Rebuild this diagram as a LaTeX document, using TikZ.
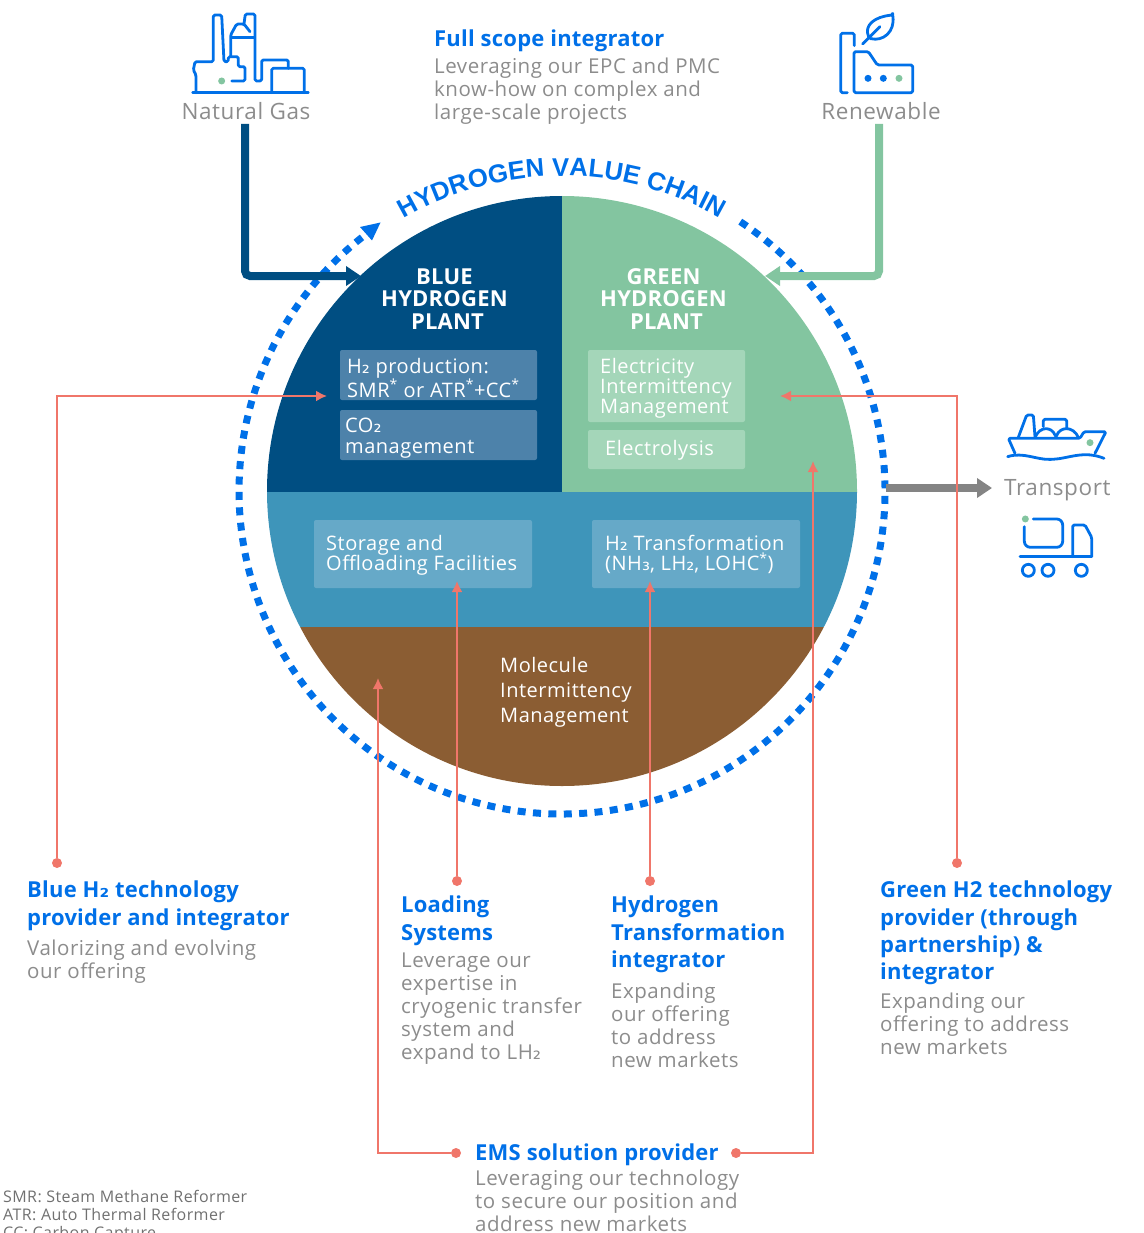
\documentclass[tikz,border=0pt]{standalone}
\usepackage{fontspec}
\setmainfont{Open Sans}[LetterSpace=2.6,BoldFeatures={LetterSpace=1.0}]
\newfontfamily\arcfont{Liberation Sans}[BoldFont={Liberation Sans Bold}]
\newfontfamily\subfont{DejaVu Sans}
\usetikzlibrary{arrows.meta,decorations.text}
\definecolor{ringblue}{HTML}{0070E8}
\definecolor{deepblue}{HTML}{004E82}
\definecolor{leaf}{HTML}{83C5A0}
\definecolor{teal}{HTML}{3E95BA}
\definecolor{earth}{HTML}{8B5D33}
\definecolor{coral}{HTML}{F0766A}
\definecolor{greytxt}{HTML}{8C8C8C}
\definecolor{foot}{HTML}{707070}
\definecolor{boxblue}{HTML}{4D82AA}
\definecolor{boxgreen}{HTML}{A4D6B9}
\definecolor{boxteal}{HTML}{66A9C8}
\definecolor{feedgrey}{HTML}{848484}
\newcommand\hvcfont{\arcfont\bfseries\fontsize{25.7}{30}\selectfont\color{ringblue}}
\newcommand\stwo{{\subfont ₂}}
\newcommand\sthree{{\subfont ₃}}
\tikzset{
  x=1pt,y=-1pt,
  txt/.style={anchor=north west,inner sep=0pt,align=left,execute at begin node={\rule{0pt}{.8em}}},
  body/.style={txt,text=greytxt,font=\fontsize{20.5}{23}\selectfont},
  head/.style={txt,text=ringblue,font=\bfseries\fontsize{22}{27.2}\selectfont},
  inbox/.style={txt,text=white,font=\fontsize{20}{20.3}\selectfont},
  plant/.style={anchor=center,inner sep=0pt,align=center,text=white,font=\bfseries\fontsize{22}{22.5}\selectfont},
  captxt/.style={inner sep=0pt,text=greytxt,font=\fontsize{22.5}{24}\selectfont},
  note/.style={txt,text=foot,font=\fontsize{16}{18}\selectfont},
  panel/.style={rounded corners=2pt},
  cdot/.style={circle,fill=coral,inner sep=0pt,minimum size=10pt},
  conn/.style={draw=coral,line width=2pt,-{Latex[length=11pt,width=11pt]}},
  feed/.style={line width=8pt,rounded corners=5pt,-{Triangle[length=15pt,width=19pt]}},
  icon/.style={draw=ringblue,line width=2.8pt,line cap=round,line join=round},
  gdot/.style={circle,fill=leaf,inner sep=0pt,minimum size=7pt},
  bdot/.style={circle,fill=ringblue,inner sep=0pt,minimum size=7pt},
}
\begin{document}
\begin{tikzpicture}
\useasboundingbox (0,0) rectangle (1143,1233);
\clip (0,0) rectangle (1143,1233);
% disc
\begin{scope}
  \clip (562,491) circle[radius=295pt];
  \fill[deepblue] (260,190) rectangle (562,492);
  \fill[leaf] (562,190) rectangle (865,492);
  \fill[teal] (260,492) rectangle (865,627);
  \fill[earth] (260,627) rectangle (865,790);
\end{scope}
% ring and curved title
\begin{scope}[shift={(562,491)},y=1pt]
  \draw[ringblue,line width=7pt,dash pattern=on 8pt off 7.4pt] (56.5:323) arc[start angle=56.5,end angle=-232,radius=323pt];
  \path[decorate,decoration={text along path,text align=center,text={|\hvcfont|HYDROGEN VALUE CHAIN}}]
    (125:315) arc[start angle=125,end angle=55,radius=315pt];
\end{scope}
\fill[ringblue] (380.5,222.5) -- (360,227) -- (372,240.5) -- cycle;
% panels
\fill[boxblue,panel] (340,350) rectangle (537,400);
\fill[boxblue,panel] (340,410) rectangle (537,460);
\fill[boxgreen,panel] (588,350) rectangle (745,422);
\fill[boxgreen,panel] (588,430) rectangle (745,469);
\fill[boxteal,panel] (314,520) rectangle (532,588);
\fill[boxteal,panel] (592,520) rectangle (800,588);
% disc texts
\node[plant] (bp) at (444.5,299) {BLUE\\HYDROGEN\\\hspace*{6pt}PLANT};
\node[plant] (gp) at (663.5,299) {GREEN\\HYDROGEN\\\hspace*{6pt}PLANT};
\node[inbox] (t1) at (347,358) {H\stwo{} production:\\SMR\textsuperscript{*} or ATR\textsuperscript{*}+CC\textsuperscript{*}};
\node[inbox] (t2) at (345,418) {CO\stwo\\management};
\node[inbox] (t3) at (600,358) {Electricity\\Intermittency\\Management};
\node[inbox] (t4) at (605,439) {Electrolysis};
\node[inbox] (t5) at (326,535) {Storage and\\Offloading Facilities};
\node[inbox] (t6) at (605,535) {H\stwo{} Transformation\\(NH\sthree, LH\stwo, LOHC\textsuperscript{*})};
\node[inbox,font=\fontsize{20}{25}\selectfont] (t7) at (500,657) {Molecule\\Intermittency\\Management};
% top texts
\node[head] (fs) at (434,29) {Full scope integrator};
\node[body] (fsb) at (434,58) {Leveraging our EPC and PMC\\know-how on complex and\\large-scale projects};
\node[captxt] (ng) at (246,111) {Natural Gas};
\node[captxt] (rn) at (881,111) {Renewable};
\node[captxt,anchor=west] (tr) at (1004,490) {Transport};
% feed arrows
\coordinate (ngs) at (245,124);
\coordinate (ngt) at (361,276);
\coordinate (rns) at (879,124);
\coordinate (rnt) at (765,276);
\coordinate (trs) at (886,488);
\coordinate (trt) at (992,488);
\draw[feed,deepblue] (ngs) |- (ngt);
\draw[feed,leaf] (rns) |- (rnt);
\draw[feed,feedgrey] (trs) -- (trt);
% bottom texts
\node[head] (a1) at (27,881) {Blue H\stwo{} technology\\provider and integrator};
\node[body] (a2) at (27,940) {Valorizing and evolving\\our offering};
\node[head] (b1) at (401,896) {Loading\\Systems};
\node[body] (b2) at (401,953) {Leverage our\\expertise in\\cryogenic transfer\\system and\\expand to LH\stwo};
\node[head] (c1) at (611,896) {Hydrogen\\Transformation\\integrator};
\node[body] (c2) at (611,983) {Expanding\\our offering\\to address\\new markets};
\node[head] (d1) at (880,881) {Green H2 technology\\provider (through\\partnership) \&\\integrator};
\node[body] (d2) at (880,993) {Expanding our\\offering to address\\new markets};
\node[head] (e1) at (475,1143) {EMS solution provider};
\node[body] (e2) at (475,1170) {Leveraging our technology\\to secure our position and\\address new markets};
\node[note] (f) at (3,1190) {SMR: Steam Methane Reformer\\ATR: Auto Thermal Reformer\\CC: Carbon Capture};
% coral connectors
\node[cdot] (n1) at (57,863) {};
\node[cdot] (n2) at (457,881) {};
\node[cdot] (n3) at (650,881) {};
\node[cdot] (n4) at (957,863) {};
\node[cdot] (n5) at (456,1153) {};
\node[cdot] (n6) at (736,1153) {};
\coordinate (e1t) at (327,396);
\coordinate (e2t) at (457,581);
\coordinate (e3t) at (650,581);
\coordinate (e4t) at (780,396);
\coordinate (e5t) at (378,678);
\coordinate (e6t) at (813,461);
\draw[conn] (n1) |- (e1t);
\draw[conn] (n2) -- (e2t);
\draw[conn] (n3) -- (e3t);
\draw[conn] (n4) |- (e4t);
\draw[conn] (n5) -| (e5t);
\draw[conn] (n6) -| (e6t);
% Natural gas icon
\begin{scope}[shift={(170,0)},x=.3333pt,y=-.3333pt,rounded corners=1.5pt]
  \draw[icon] (68,278) -- (415,278);
  \draw[icon] (78,278) -- (78,225) -- (70,210) -- (75,185) -- (130,185) -- (130,45) -- (155,45) -- (162,185) -- (175,185) -- (175,170) -- (205,170) -- (205,200) -- (225,200) -- (225,243) -- (185,243);
  \draw[icon] (182,170) -- (182,105) -- (200,72) -- (222,72) -- (240,95);
  \draw[icon] (185,112) -- (252,112);
  \draw[icon] (222,72) -- (226,42) -- (255,42) -- (255,243) -- (275,243) -- (275,180) -- (355,180) -- (355,205);
  \draw[icon] (305,278) -- (305,205) -- (403,205) -- (403,278);
  \node[gdot] at (155,243) {};
\end{scope}
% Renewable icon
\begin{scope}[shift={(800,0)},x=.3333pt,y=-.3333pt,rounded corners=1.5pt]
  \draw[icon] (142,278) -- (122,278) -- (122,100) -- (163,100) -- (163,137);
  \draw[icon] (162,278) -- (162,155) -- (205,155) -- (232,195) -- (338,195) -- (338,278) -- cycle;
  \node[bdot] at (204,235) {};
  \node[bdot] at (250,235) {};
  \node[gdot] at (297,235) {};
  \draw[icon] (188,132) -- (240,80);
  \draw[icon] (278,45) .. controls (225,50) and (190,75) .. (208,115) .. controls (250,125) and (285,95) .. (278,45) -- cycle;
\end{scope}
% Ship icon
\begin{scope}[shift={(980,400)},x=.3333pt,y=-.3333pt,rounded corners=1.5pt]
  \draw[icon] (105,160) -- (85,115) -- (300,115) -- (312,95) -- (378,95) -- (345,160);
  \draw[icon] (115,112) -- (140,45) -- (160,45) -- (165,110);
  \draw[icon] (165,112) .. controls (180,78) and (215,78) .. (228,112) .. controls (240,78) and (280,78) .. (295,112);
  \draw[icon] (190,80) -- (190,58) -- (260,58) -- (260,85);
  \draw[icon] (83,170) .. controls (130,155) and (170,180) .. (215,178) .. controls (265,176) and (310,150) .. (372,175);
  \node[gdot] at (330,128) {};
\end{scope}
% Truck icon
\begin{scope}[shift={(980,400)},x=.3333pt,y=-.3333pt]
  \draw[icon,rounded corners=6pt] (160,357) -- (248,357) -- (248,442) -- (133,442) -- (133,380);
  \draw[icon] (120,470) -- (335,470);
  \draw[icon,rounded corners=1.5pt] (278,470) -- (278,375) -- (315,375) -- (335,412) -- (335,470);
  \node[gdot] at (136,357) {};
  \draw[icon] (145,511) circle[radius=6pt];
  \draw[icon] (204,511) circle[radius=6pt];
  \draw[icon] (304,511) circle[radius=6pt];
\end{scope}
\end{tikzpicture}
\end{document}
